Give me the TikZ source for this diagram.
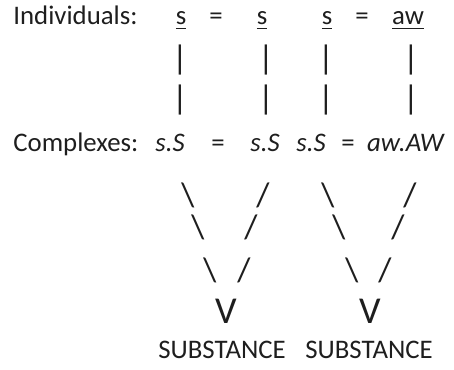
\documentclass[tikz,border=0pt]{standalone}
\usepackage{fontspec}
\setmainfont{Carlito}
\usetikzlibrary{positioning}
\definecolor{ink}{RGB}{30,30,30}

\begin{document}
\begin{tikzpicture}[
  x=0.5pt, y=-0.5pt,
  every node/.style={inner sep=0pt, text=ink, font=\fontsize{13.4}{15}\selectfont},
  word/.style={anchor=base},
  head/.style={anchor=base west},
  glyph/.style={anchor=center, font=\fontsize{17}{19}\selectfont},
  vee/.style={anchor=center, font=\fontsize{19}{21}\selectfont},
]
\useasboundingbox (0,0) rectangle (454,369);

% individuals
\node[head] (ind) at (13,25) {Individuals:};
\node[word] (i1) at (181,25) {\underline{s}};
\node[word] (e1) at (216,25) {=};
\node[word] (i2) at (262,25) {\underline{s}};
\node[word] (i3) at (327,25) {\underline{s}};
\node[word] (e2) at (362,25) {=};
\node[word] (i4) at (408,25) {\underline{aw}};

% bars
\foreach \x [count=\k] in {180,266,326,411} {
  \node[glyph] (b\k a) at (\x,60) {|};
  \node[glyph] (b\k b) at (\x,100) {|};
}

% complexes
\node[head] (cpx) at (13,151) {Complexes:};
\node[word] (c1) at (170,151) {\textit{s.S}};
\node[word] (e3) at (218,151) {=};
\node[word] (c2) at (265,151) {\textit{s.S}};
\node[word] (c3) at (311,151) {\textit{s.S}};
\node[word] (e4) at (348,151) {=};
\node[word] (c4) at (406,151) {\textit{aw.AW}};

% left branch
\node[glyph] (l1) at (188,195) {\textbackslash};
\node[glyph] (r1) at (263,195) {/};
\node[glyph] (l2) at (198,227) {\textbackslash};
\node[glyph] (r2) at (251,227) {/};
\node[glyph] (l3) at (210,270) {\textbackslash};
\node[glyph] (r3) at (244,270) {/};
\node[vee] (v1) at (226,311) {V};

% right branch
\node[glyph] (l4) at (328,195) {\textbackslash};
\node[glyph] (r4) at (410,195) {/};
\node[glyph] (l5) at (339,227) {\textbackslash};
\node[glyph] (r5) at (398,227) {/};
\node[glyph] (l6) at (352,270) {\textbackslash};
\node[glyph] (r6) at (385,270) {/};
\node[vee] (v2) at (370,311) {V};

\node[word] (sub1) at (222,358) {SUBSTANCE};
\node[word] (sub2) at (369,358) {SUBSTANCE};
\end{tikzpicture}
\end{document}
